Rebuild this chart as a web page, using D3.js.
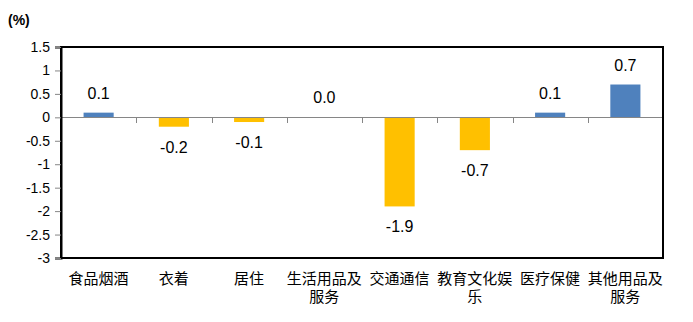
<!DOCTYPE html>
<html>
<head>
<meta charset="utf-8">
<script src="https://cdn.jsdelivr.net/npm/d3@7"></script>
<style>
  html, body { margin: 0; padding: 0; background: #fff; }
  svg { display: block; }
</style>
</head>
<body>
<svg id="chart" width="693" height="322"></svg>
<script>
// Category names and month-on-month change (%) for each
const categories = ["食品烟酒", "衣着", "居住", "生活用品及服务", "交通通信", "教育文化娱乐", "医疗保健", "其他用品及服务"];
const values = [0.1, -0.2, -0.1, 0.0, -1.9, -0.7, 0.1, 0.7];
const yTicks = [1.5, 1, 0.5, 0, -0.5, -1, -1.5, -2, -2.5, -3];
const unitLabel = "(%)";

const W = 693, H = 322;
const margin = { top: 47, right: 30, bottom: 64, left: 61 };
const svg = d3.select("#chart");
const cjk = "'Noto Sans CJK SC', 'Noto Sans', sans-serif";
const latin = "'Liberation Sans', Arial, sans-serif";

const x = d3.scaleBand()
  .domain(categories)
  .range([margin.left, W - margin.right])
  .paddingInner(0.6)
  .paddingOuter(0.3);

const y = d3.scaleLinear()
  .domain([-3, 1.5])
  .range([H - margin.bottom, margin.top]);

// Bars: blue for increases, amber for decreases
svg.append("g").selectAll("rect")
  .data(values)
  .join("rect")
  .attr("x", (d, i) => x(categories[i]))
  .attr("width", x.bandwidth())
  .attr("y", d => y(Math.max(0, d)))
  .attr("height", d => Math.abs(y(d) - y(0)))
  .attr("fill", d => d >= 0 ? "#4F81BD" : "#FFC000");

// Zero baseline with category separators
const step = x.step();
const zero = svg.append("g");
zero.append("line")
  .attr("x1", margin.left).attr("x2", W - margin.right)
  .attr("y1", Math.round(y(0)) + 0.5).attr("y2", Math.round(y(0)) + 0.5)
  .attr("stroke", "#868686").attr("stroke-width", 1);
zero.selectAll("line.sep")
  .data(d3.range(categories.length + 1))
  .join("line")
  .attr("class", "sep")
  .attr("x1", i => Math.round(margin.left + i * step) + 0.5)
  .attr("x2", i => Math.round(margin.left + i * step) + 0.5)
  .attr("y1", Math.round(y(0)))
  .attr("y2", Math.round(y(0)) + 6)
  .attr("stroke", "#868686").attr("stroke-width", 1);

// Frame
const x0 = margin.left, x1 = W - margin.right, yT = margin.top, yB = H - margin.bottom;
svg.append("rect")
  .attr("x", x0).attr("y", yT)
  .attr("width", x1 - x0).attr("height", yB - yT)
  .attr("fill", "none").attr("stroke", "#000").attr("stroke-width", 2);

// Y axis
const yAxis = d3.axisLeft(y)
  .tickValues(yTicks)
  .tickSize(6)
  .tickPadding(5)
  .tickFormat(d => String(d));
const gy = svg.append("g")
  .attr("transform", `translate(${x0},0)`)
  .call(yAxis);
gy.select(".domain").attr("stroke", "#000").attr("stroke-width", 2);
gy.selectAll(".tick line").attr("stroke", "#868686");
gy.selectAll(".tick text")
  .attr("font-family", latin)
  .attr("font-size", 14)
  .attr("fill", "#000");

// Unit label
svg.append("text")
  .attr("x", 8).attr("y", 25)
  .attr("font-family", latin)
  .attr("font-size", 14)
  .attr("font-weight", "bold")
  .text(unitLabel);

// Category labels, wrapped at five characters per line
function wrap(s, n) {
  const out = [];
  for (let i = 0; i < s.length; i += n) out.push(s.slice(i, i + n));
  return out;
}
const cat = svg.append("g").selectAll("text")
  .data(categories)
  .join("text")
  .attr("x", d => x(d) + x.bandwidth() / 2)
  .attr("y", 284)
  .attr("text-anchor", "middle")
  .attr("font-family", cjk)
  .attr("font-size", 15)
  .attr("fill", "#000");
cat.each(function(d) {
  const t = d3.select(this);
  wrap(d, 5).forEach((line, k) => {
    t.append("tspan")
      .attr("x", x(d) + x.bandwidth() / 2)
      .attr("dy", k === 0 ? 0 : 18)
      .text(line);
  });
});

// Value labels
svg.append("g").selectAll("text")
  .data(values)
  .join("text")
  .attr("x", (d, i) => x(categories[i]) + x.bandwidth() / 2)
  .attr("y", d => d >= 0 ? y(d) - 14 : y(d) + 26)
  .attr("text-anchor", "middle")
  .attr("font-family", latin)
  .attr("font-size", 16)
  .attr("fill", "#000")
  .text(d => d.toFixed(1));
</script>
</body>
</html>
